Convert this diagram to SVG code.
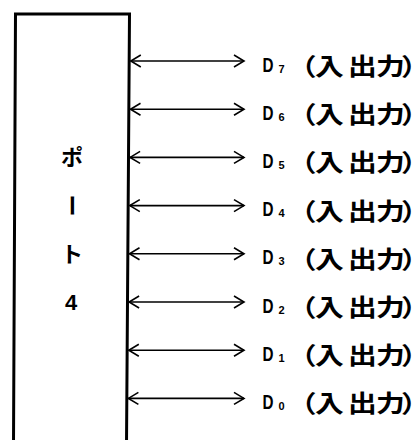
<svg xmlns="http://www.w3.org/2000/svg" width="419" height="440" viewBox="0 0 419 440">
<style>
.box{fill:none;stroke:#000;stroke-width:3;stroke-linejoin:miter}
.arr{stroke:#000;stroke-width:1.6;fill:none;marker-start:url(#h);marker-end:url(#h)}
.d{font-family:"Liberation Sans",sans-serif;font-weight:bold;font-size:21px}
.s{font-family:"Liberation Sans",sans-serif;font-weight:bold;font-size:11px}
.j{font-family:"Noto Sans CJK JP",sans-serif;font-weight:bold;font-size:24px;text-anchor:middle;font-feature-settings:"palt"}
.p{font-family:"Noto Sans CJK JP",sans-serif;font-weight:bold;font-size:22px;text-anchor:middle}
.n{font-family:"Liberation Sans",sans-serif;font-weight:bold;font-size:22px;text-anchor:middle}
</style>
<defs>
<marker id="h" viewBox="0 0 10 12" refX="10" refY="6" markerWidth="10" markerHeight="12" markerUnits="userSpaceOnUse" orient="auto-start-reverse" overflow="visible">
<path d="M0,0 L10,6 L0,12" fill="none" stroke="#000" stroke-width="1.6"/>
</marker>
</defs>
<g id="port4">
<path class="box" d="M13.5,445 L15.5,14 H129.5 L126.5,445"/>
<text class="p" x="72" y="165">ポ</text>
<text class="p" x="72" y="213.6" transform="rotate(90 72 205.6)">ー</text>
<text class="p" x="72" y="261.8">ト</text>
<text class="n" x="71" y="310">4</text>
</g>
<g id="connectors">
<line class="arr" x1="130.8" y1="61" x2="244" y2="61"/>
<line class="arr" x1="130.5" y1="109.2" x2="244" y2="109.2"/>
<line class="arr" x1="130.1" y1="157.4" x2="244" y2="157.4"/>
<line class="arr" x1="129.8" y1="205.6" x2="244" y2="205.6"/>
<line class="arr" x1="129.5" y1="253.8" x2="244" y2="253.8"/>
<line class="arr" x1="129.1" y1="302" x2="244" y2="302"/>
<line class="arr" x1="128.8" y1="350.2" x2="244" y2="350.2"/>
<line class="arr" x1="128.4" y1="398.4" x2="244" y2="398.4"/>
</g>
<g id="d7" transform="translate(0,61)"><text class="d" x="262.5" y="10.5" textLength="11" lengthAdjust="spacingAndGlyphs">D</text><text class="s" x="278.5" y="11.5">7</text><text class="j" transform="scale(1.2,1)" x="256.7 274.6 302.1 325.4 341.3" y="14">（入出力）</text></g>
<g id="d6" transform="translate(0,109.2)"><text class="d" x="262.5" y="10.5" textLength="11" lengthAdjust="spacingAndGlyphs">D</text><text class="s" x="278.5" y="11.5">6</text><text class="j" transform="scale(1.2,1)" x="256.7 274.6 302.1 325.4 341.3" y="14">（入出力）</text></g>
<g id="d5" transform="translate(0,157.4)"><text class="d" x="262.5" y="10.5" textLength="11" lengthAdjust="spacingAndGlyphs">D</text><text class="s" x="278.5" y="11.5">5</text><text class="j" transform="scale(1.2,1)" x="256.7 274.6 302.1 325.4 341.3" y="14">（入出力）</text></g>
<g id="d4" transform="translate(0,205.6)"><text class="d" x="262.5" y="10.5" textLength="11" lengthAdjust="spacingAndGlyphs">D</text><text class="s" x="278.5" y="11.5">4</text><text class="j" transform="scale(1.2,1)" x="256.7 274.6 302.1 325.4 341.3" y="14">（入出力）</text></g>
<g id="d3" transform="translate(0,253.8)"><text class="d" x="262.5" y="10.5" textLength="11" lengthAdjust="spacingAndGlyphs">D</text><text class="s" x="278.5" y="11.5">3</text><text class="j" transform="scale(1.2,1)" x="256.7 274.6 302.1 325.4 341.3" y="14">（入出力）</text></g>
<g id="d2" transform="translate(0,302)"><text class="d" x="262.5" y="10.5" textLength="11" lengthAdjust="spacingAndGlyphs">D</text><text class="s" x="278.5" y="11.5">2</text><text class="j" transform="scale(1.2,1)" x="256.7 274.6 302.1 325.4 341.3" y="14">（入出力）</text></g>
<g id="d1" transform="translate(0,350.2)"><text class="d" x="262.5" y="10.5" textLength="11" lengthAdjust="spacingAndGlyphs">D</text><text class="s" x="278.5" y="11.5">1</text><text class="j" transform="scale(1.2,1)" x="256.7 274.6 302.1 325.4 341.3" y="14">（入出力）</text></g>
<g id="d0" transform="translate(0,398.4)"><text class="d" x="262.5" y="10.5" textLength="11" lengthAdjust="spacingAndGlyphs">D</text><text class="s" x="278.5" y="11.5">0</text><text class="j" transform="scale(1.2,1)" x="256.7 274.6 302.1 325.4 341.3" y="14">（入出力）</text></g>
</svg>
